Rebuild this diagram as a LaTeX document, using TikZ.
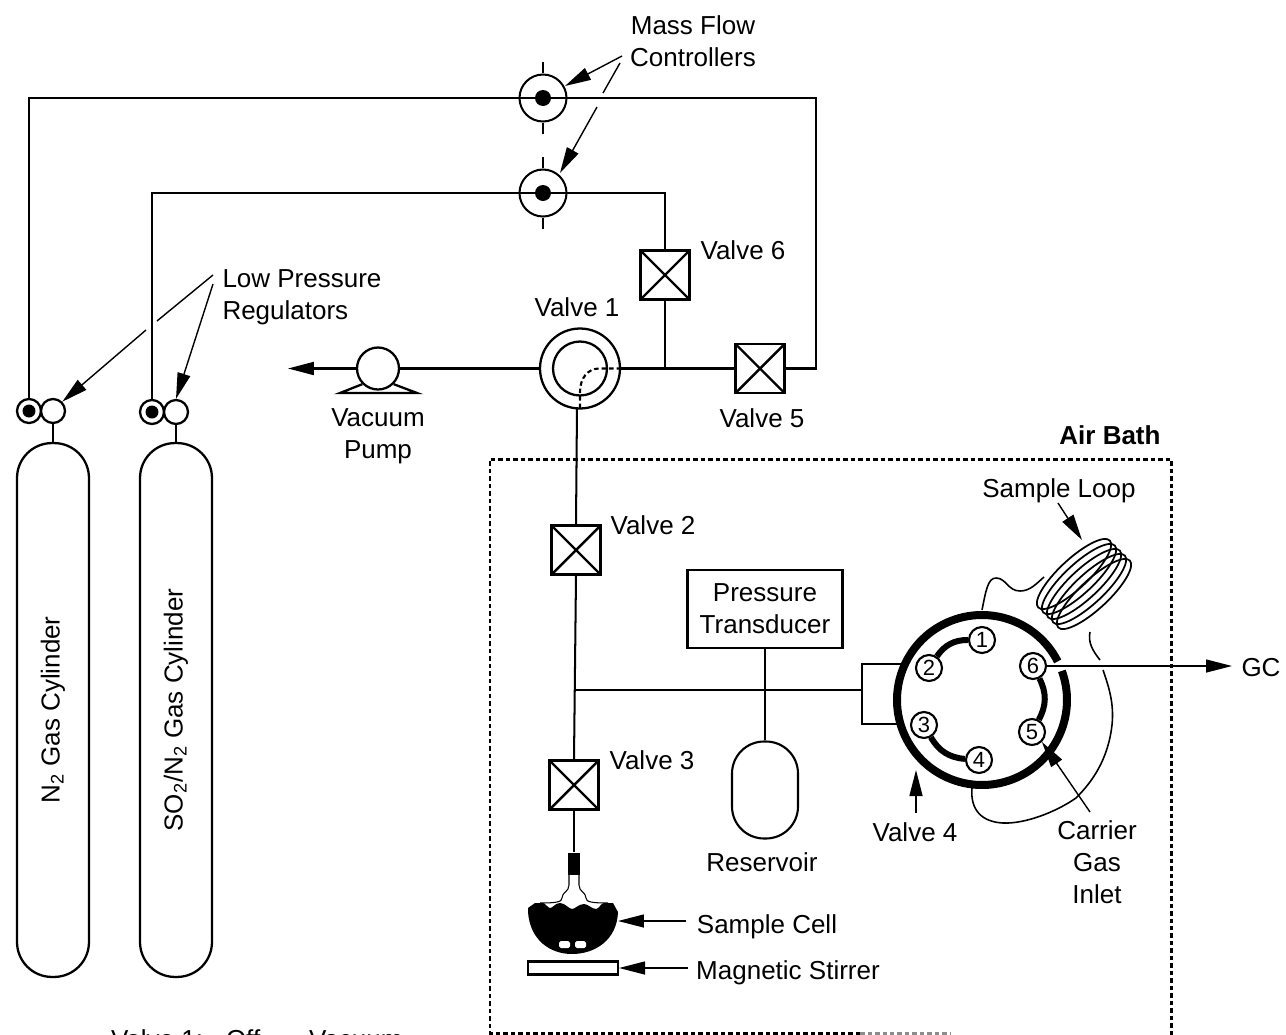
\documentclass[tikz,border=0pt]{standalone}
\usepackage{fontspec}
\setmainfont{Liberation Sans}
\usepackage{tikz}
\usepackage{xcolor}
\usetikzlibrary{shapes,positioning,arrows.meta}

\begin{document}
\begin{tikzpicture}[
    x=0.02cm, y=-0.02cm,
    line width=1.15pt,
    every node/.style={font=\fontsize{14.8}{18.1}\selectfont},
    valve/.style={
        rectangle,
        draw=black,
        line width=1.4pt,
        fill=white,
        minimum size=0.98cm,
        inner sep=0pt,
        path picture={
            \draw [line width=1.4pt] (path picture bounding box.north west) -- (path picture bounding box.south east);
            \draw [line width=1.4pt] (path picture bounding box.north east) -- (path picture bounding box.south west);
        }
    },
    flowmeter/.style={circle, draw=black, fill=white, minimum size=0.94cm, inner sep=0pt},
    blackdot/.style={circle, fill=black, minimum size=0.32cm, inner sep=0pt},
    regulator/.style={circle, draw=black, line width=1.3pt, fill=white, minimum size=0.48cm, inner sep=0pt},
    regulatordot/.style={circle, fill=black, minimum size=0.26cm, inner sep=0pt},
    cylinderbody/.style={
        rectangle,
        draw=black,
        line width=1.3pt,
        rotate=90,
        rounded corners=0.7cm,
        minimum width=10.68cm,
        minimum height=1.44cm,
        align=center
    },
    port/.style={
        circle,
        draw=black,
        line width=1.2pt,
        fill=white,
        minimum size=0.52cm,
        inner sep=0pt,
        font=\fontsize{12.5}{14}\selectfont
    },
    loopturn/.style={ellipse, draw=black, line width=1pt, rotate=43, minimum width=1.96cm, minimum height=0.58cm, inner sep=0pt},
    pointer/.style={-{Triangle[length=0.52cm,width=0.26cm]}, line width=0.8pt},
    portlink/.style={line width=0.12cm, bend right=28},
    tube/.style={line width=0.9pt},
    bathline/.style={line width=1.7pt, dash pattern=on 0.09cm off 0.06cm},
    cellline/.style={line width=0.6pt}
]

    \useasboundingbox (0,0) rectangle (1286,1035);

    % --- CYLINDERS ---
    \node [cylinderbody] (cylone) at (53,710) {N\textsubscript{2} Gas Cylinder};
    \node [cylinderbody] (cyltwo) at (176,710) {SO\textsubscript{2}/N\textsubscript{2} Gas Cylinder};

    % Regulators
    \node [regulator] (regonea) at (29,411) {};
    \node [regulator] (regoneb) at (53,411) {};
    \node [regulator] (regtwoa) at (152,412) {};
    \node [regulator] (regtwob) at (176,412) {};
    \node [regulatordot] (regdotone) at (29,411) {};
    \node [regulatordot] (regdottwo) at (152,412) {};

    % --- VALVES ---
    \node [flowmeter] (mfcone) at (543,98) {};
    \node [flowmeter] (mfctwo) at (543,193) {};
    \node [valve] (valvesix) at (665,275) {};
    \node [valve] (valvefive) at (760,368.5) {};
    \node [valve] (valvetwo) at (576,550) {};
    \node [valve] (valvethree) at (574,785) {};
    \node [circle, draw=black, line width=1.3pt, minimum size=1.6cm, inner sep=0pt] (valveouter) at (580,368.5) {};
    \node [circle, draw=black, line width=1.3pt, minimum size=1.08cm, inner sep=0pt] (valveinner) at (580,368.5) {};

    % Vacuum pump
    \node [circle, draw=black, line width=1.3pt, minimum size=0.84cm, inner sep=0pt] (pump) at (378,368.5) {};
    \coordinate (pumpleft) at (340,393);
    \coordinate (pumpright) at (417,393);
    \coordinate (pumpout) at (288,368.5);
    \draw [line width=1.3pt] (pump.south west) -- (pumpleft) -- (pumpright) -- (pump.south east);

    % --- PIPES ---
    \coordinate (rightcorner) at (816,368.5);
    \coordinate (teesix) at (665,368.5);
    \coordinate (teeport) at (576,690);
    \coordinate (blockwest) at (862,690);
    \coordinate (valveexit) at (577,408);
    \draw (regonea.north) |- (mfcone.center) -| (rightcorner) -- (valvefive.east);
    \draw (regtwoa.north) |- (mfctwo.center) -| (valvesix.north);
    \draw (valvesix.south) -- (teesix);
    \draw (valveouter.east) -- (valvefive.west);
    \draw (pump.east) -- (valveouter.west);
    \draw [-{Triangle[length=0.52cm,width=0.26cm]}] (pump.west) -- (pumpout);
    \draw (valveexit) -- (valvetwo.north);
    \draw (valvetwo.south) -- (valvethree.north);
    \draw (teeport) -- (blockwest);
    \draw [line width=1.5pt] (regoneb.south) -- (cylone.east);
    \draw [line width=1.5pt] (regtwob.south) -- (cyltwo.east);
    \draw [line width=1.2pt, dash pattern=on 0.09cm off 0.06cm] (valveouter.east) -- ++(-22,0) .. controls (588,368.5) and (580,378) .. (580,392) -- (valveouter.south);

    % Flow meter dots and ticks
    \node [blackdot] (dotone) at (543,98) {};
    \node [blackdot] (dottwo) at (543,193) {};
    \draw (mfcone.north) -- ++(0,-11);
    \draw (mfcone.south) -- ++(0,11);
    \draw (mfctwo.north) -- ++(0,-11);
    \draw (mfctwo.south) -- ++(0,11);

    % --- AIR BATH ---
    \coordinate (bathsw) at (490,1033);
    \coordinate (bathnw) at (490,459);
    \coordinate (bathne) at (1171,459);
    \coordinate (bathse) at (1171,1036);
    \coordinate (bathfade) at (860,1033);
    \coordinate (bathend) at (950,1033);
    \draw [bathline] (bathfade) -- (bathsw) -- (bathnw) -- (bathne) -- (bathse);
    \draw [bathline, black!45] (bathfade) -- (bathend);

    % --- TRANSDUCER AND RESERVOIR ---
    \node [rectangle, draw=black, line width=1.2pt, minimum width=3.1cm, minimum height=1.56cm, align=center] (transducer) at (765,609) {Pressure \\ Transducer};
    \node [rectangle, draw=black, line width=1.2pt, rounded corners=0.64cm, minimum width=1.32cm, minimum height=1.94cm] (reservoir) at (765,790) {};
    \draw (transducer.south) -- (reservoir.north);

    % --- VALVE 4 ---
    \coordinate (ringcentre) at (982,700);
    \draw [line width=1.3pt] (902,664) -- (862,664) -- (862,724) -- (899,724);
    \draw [line width=0.16cm] (ringcentre) ++(27:1.7cm) arc[start angle=27, end angle=380, radius=1.7cm];

    \node [port] (portone) at (982,640) {1};
    \node [port] (porttwo) at (929,668) {2};
    \node [port] (portthree) at (924,725) {3};
    \node [port] (portfour) at (979,760) {4};
    \node [port] (portfive) at (1032,732) {5};
    \node [port] (portsix) at (1033,666) {6};
    \draw [portlink] (portone) to (porttwo);
    \draw [portlink] (portthree) to (portfour);
    \draw [portlink] (portfive) to (portsix);

    % Sample loop
    \node [loopturn] (turnone) at (1074,574) {};
    \node [loopturn] (turntwo) at (1079,579) {};
    \node [loopturn] (turnthree) at (1084,584) {};
    \node [loopturn] (turnfour) at (1089,589) {};
    \node [loopturn] (turnfive) at (1094,594) {};
    \draw [tube] (982,610) .. controls (986,590) and (988,578) .. (996,578) .. controls (1006,578) and (1008,591) .. (1020,591) .. controls (1030,591) and (1036,584) .. (1044,577);
    \draw [tube] (1090,632) .. controls (1088,642) and (1092,650) .. (1100,660);
    \draw [tube] (1103,670) .. controls (1110,690) and (1114,705) .. (1112,725) .. controls (1108,760) and (1092,782) .. (1076,798) .. controls (1056,812) and (1025,824) .. (1003,823) .. controls (982,822) and (970,810) .. (972,788);

    % --- SAMPLE CELL ---
    \node [rectangle, fill=black, minimum width=0.24cm, minimum height=0.44cm, inner sep=0pt] (stopper) at (574,864) {};
    \draw (valvethree.south) -- (stopper.north);
    \fill (528,908) -- (535,903) -- (543,903) .. controls (546,904) and (548,908) .. (550,908) .. controls (553,908) and (555,903) .. (560,903) .. controls (565,903) and (569,909) .. (572,909) .. controls (575,909) and (579,904) .. (584,904) .. controls (588,904) and (592,909) .. (596,909) .. controls (599,909) and (601,903) .. (604,903) -- (613,903) -- (618,912) .. controls (617,940) and (595,954) .. (572,954) .. controls (550,954) and (530,940) .. (528,912) -- cycle;
    \draw [cellline] (569,875) -- (569,885) .. controls (569,892) and (562,892) .. (562,898) .. controls (562,902) and (556,903) .. (540,903);
    \draw [cellline] (579,875) -- (579,885) .. controls (579,892) and (586,892) .. (586,898) .. controls (586,902) and (592,903) .. (608,903);
    \fill [white, rounded corners=1pt] (559,941) rectangle (570,948);
    \fill [white, rounded corners=1pt] (575,941) rectangle (586,948);
    \node [rectangle, draw=black, line width=1.2pt, minimum width=1.8cm, minimum height=0.26cm, inner sep=0pt] (stirrer) at (573,968) {};
    \coordinate (cellpoint) at (618,921);

    % --- LABELS ---
    \node [align=center] (mfclabel) at (693,41) {Mass Flow \\ Controllers};
    \node [align=left] (lowlabel) at (302,297) {Low Pressure \\ Regulators};
    \node (labelone) at (577,307) {Valve 1};
    \node (labeltwo) at (653,525) {Valve 2};
    \node (labelthree) at (652,760) {Valve 3};
    \node (labelfour) at (915,832) {Valve 4};
    \node (labelfive) at (762,418) {Valve 5};
    \node (labelsix) at (743,250) {Valve 6};
    \node [align=center] (pumplabel) at (378,436) {Vacuum \\ Pump};
    \node [font=\fontsize{14.8}{18.1}\selectfont\bfseries] (bathlabel) at (1110,435) {Air Bath};
    \node (looplabel) at (1059,491) {Sample Loop};
    \node (reservoirlabel) at (762,862) {Reservoir};
    \node [align=center] (carrierlabel) at (1097,862) {Carrier \\ Gas \\ Inlet};
    \node (celllabel) at (767,927) {Sample Cell};
    \node (stirrerlabel) at (788,973) {Magnetic Stirrer};
    \node (gclabel) at (1261,668) {GC};
    \node [anchor=base west, inner sep=0pt] (settingone) at (110,1048) {Valve 1:};
    \node [anchor=base west, inner sep=0pt] (settingtwo) at (225,1048) {Off};
    \node [anchor=base west, inner sep=0pt] (settingthree) at (308,1048) {Vacuum};

    % --- ARROWS ---
    \coordinate (mfcstartone) at (622,56);
    \coordinate (mfctipone) at (565,86);
    \coordinate (mfcstarttwo) at (620,63);
    \coordinate (mfcgapone) at (603,93);
    \coordinate (mfcgaptwo) at (597,107);
    \coordinate (mfctiptwo) at (560,173);
    \draw [pointer] (mfcstartone) -- (mfctipone);
    \draw [line width=0.8pt] (mfcstarttwo) -- (mfcgapone);
    \draw [pointer] (mfcgaptwo) -- (mfctiptwo);

    \coordinate (lowstartone) at (213,275);
    \coordinate (lowgapone) at (157,321);
    \coordinate (lowgaptwo) at (146,330);
    \coordinate (lowstarttwo) at (213,284);
    \draw [line width=0.8pt] (lowstartone) -- (lowgapone);
    \draw [pointer] (lowgaptwo) -- (regoneb.north east);
    \draw [pointer] (lowstarttwo) -- (regtwob.north);

    \coordinate (loopstart) at (1058,503);
    \coordinate (looptip) at (1082,540);
    \draw [pointer] (loopstart) -- (looptip);

    \coordinate (fourstart) at (916,813);
    \coordinate (fourtip) at (916,770);
    \draw [pointer] (fourstart) -- (fourtip);

    \coordinate (carrierstart) at (1090,812);
    \draw [pointer] (carrierstart) -- (portfive.south east);

    \coordinate (gctip) at (1232,666);
    \draw [pointer] (portsix.east) -- (gctip);

    \coordinate (cellstart) at (686,921);
    \coordinate (stirrerstart) at (688,968);
    \draw [pointer] (cellstart) -- (cellpoint);
    \draw [pointer] (stirrerstart) -- (stirrer.east);

\end{tikzpicture}
\end{document}
